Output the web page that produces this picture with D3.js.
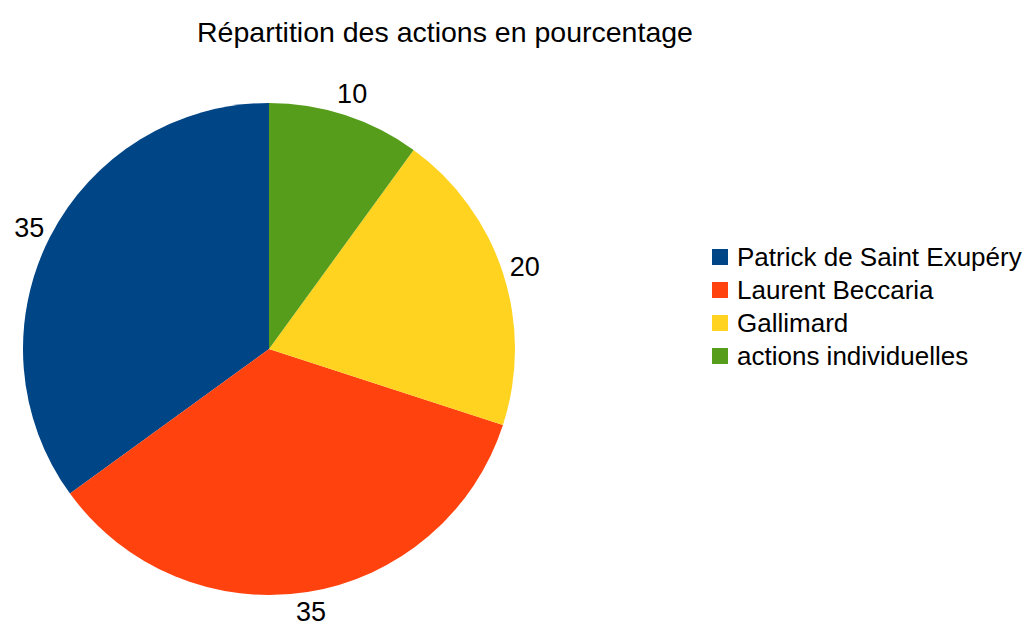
<!DOCTYPE html>
<html>
<head>
<meta charset="utf-8">
<script src="https://cdn.jsdelivr.net/npm/d3@7"></script>
<style>
  body { margin: 0; background: #fff; }
  text { font-family: "Liberation Sans", Arial, sans-serif; fill: #000; }
</style>
</head>
<body>
<div id="chart"></div>
<script>
const WIDTH = 1031, HEIGHT = 627;
const CX = 269, CY = 349, RADIUS = 246, LABEL_R = 269;

// data
const categories = ["Patrick de Saint Exupéry", "Laurent Beccaria", "Gallimard", "actions individuelles"];
const values = [35, 35, 20, 10];
const colors = ["#004586", "#ff420e", "#ffd320", "#579d1c"];
const title = "Répartition des actions en pourcentage";

const svg = d3.select("#chart")
    .append("svg")
    .attr("width", WIDTH)
    .attr("height", HEIGHT);

svg.append("text")
    .attr("x", 445).attr("y", 42)
    .attr("text-anchor", "middle")
    .style("font-size", "28.5px")
    .text(title);

// slices go counter-clockwise from 12 o'clock
const pie = d3.pie().sort(null).startAngle(0).endAngle(-2 * Math.PI);
const arcs = pie(values);
const arc = d3.arc().innerRadius(0).outerRadius(RADIUS);
const labelArc = d3.arc().innerRadius(LABEL_R).outerRadius(LABEL_R);

const g = svg.append("g").attr("transform", "translate(" + CX + "," + CY + ")");
g.selectAll("path.slice")
    .data(arcs)
    .enter().append("path")
    .attr("class", "slice")
    .attr("d", arc)
    .attr("fill", (d, i) => colors[i]);

// value labels, kept inside the picture
g.selectAll("text.lbl")
    .data(arcs)
    .enter().append("text")
    .attr("class", "lbl")
    .attr("text-anchor", "middle")
    .attr("dy", "0.36em")
    .style("font-size", "27px")
    .text(d => d.data)
    .attr("transform", function (d) {
        const [x, y] = labelArc.centroid(d);
        this.setAttribute("transform", "translate(" + x + "," + y + ")");
        const b = this.getBBox();
        const over = Math.max(0, CY + y + b.y + b.height - HEIGHT);
        return "translate(" + x + "," + (y - over) + ")";
    });

// legend
const legend = svg.append("g").attr("transform", "translate(712,257)");
const rows = legend.selectAll("g")
    .data(categories)
    .enter().append("g")
    .attr("transform", (d, i) => "translate(0," + i * 33 + ")");
rows.append("rect")
    .attr("x", 0).attr("y", -8)
    .attr("width", 16).attr("height", 16)
    .attr("fill", (d, i) => colors[i]);
rows.append("text")
    .attr("x", 25).attr("y", 0)
    .attr("dy", "0.36em")
    .style("font-size", "26px")
    .text(d => d);
</script>
</body>
</html>
